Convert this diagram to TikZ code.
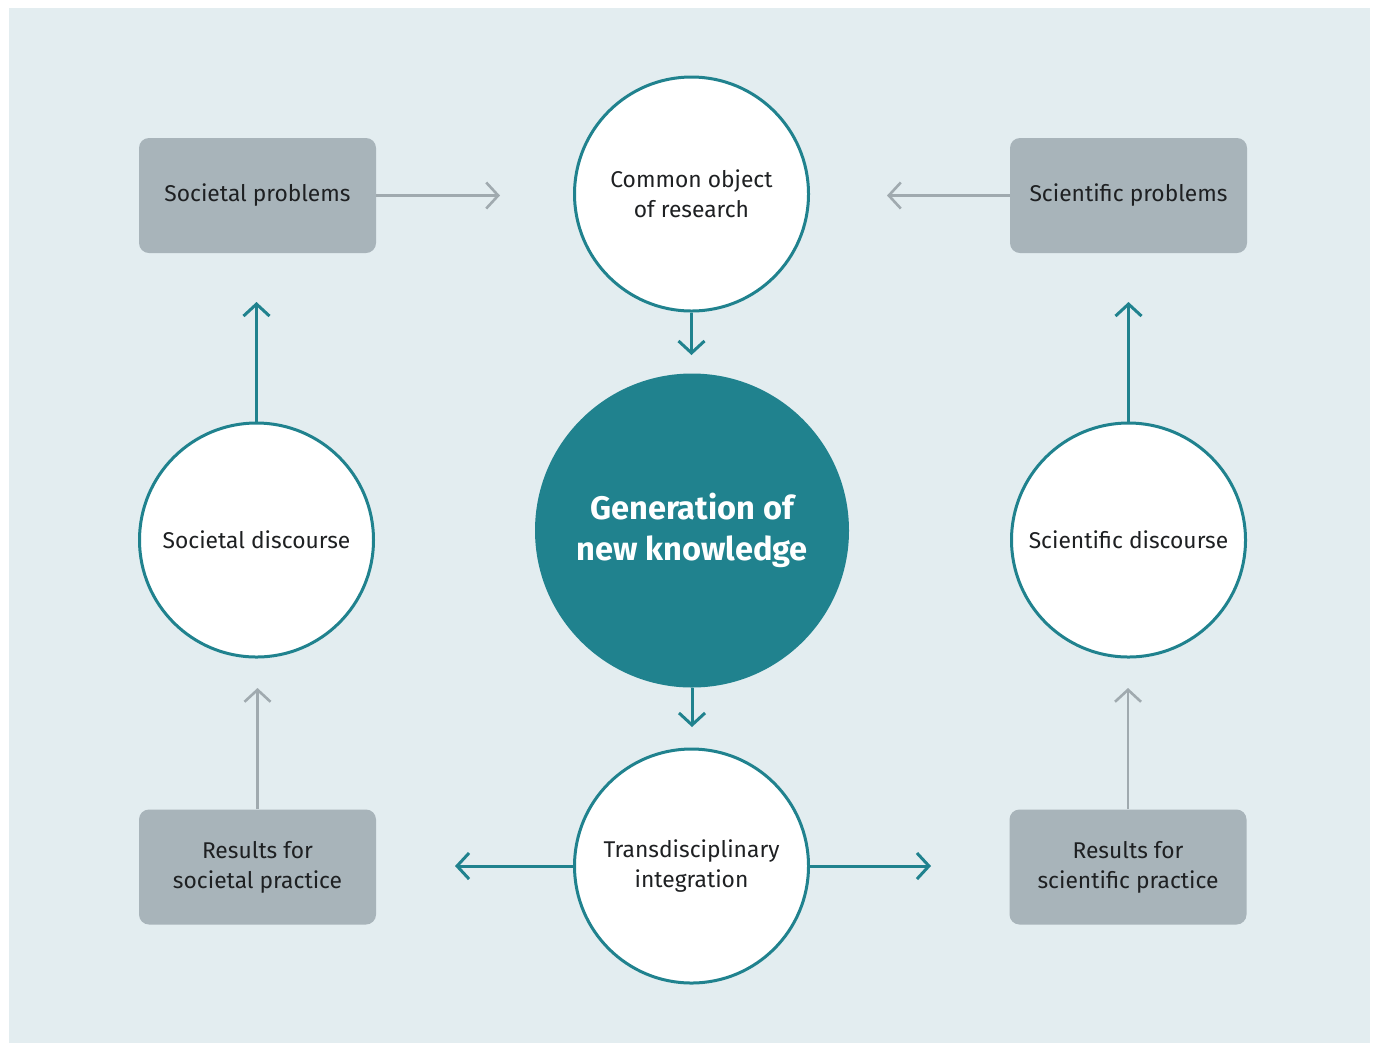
\documentclass[tikz,border=0pt]{standalone}
\usepackage{fontspec}
\setmainfont{Fira Sans}
\usetikzlibrary{arrows.meta}
\definecolor{panel}{RGB}{227,237,240}
\definecolor{boxgray}{RGB}{168,180,186}
\definecolor{arrgray}{RGB}{160,170,175}
\definecolor{tealc}{RGB}{32,130,142}
\definecolor{txt}{RGB}{30,32,34}
\begin{document}
\begin{tikzpicture}[x=0.5pt,y=-0.5pt,
  lbl/.style={font=\fontsize{11.4}{15}\selectfont, text=txt, align=center},
  gbox/.style={lbl, fill=boxgray, rounded corners=5pt, minimum width=118.5pt, minimum height=57.5pt, inner sep=0pt},
  wcirc/.style={lbl, circle, fill=white, draw=tealc, line width=1.5pt, minimum size=117pt, inner sep=0pt},
  bigc/.style={circle, fill=tealc, minimum size=157pt, inner sep=0pt, text=white, align=center, font=\fontsize{16.3}{20.5}\selectfont\bfseries},
  tarr/.style={draw=tealc, line width=1.5pt, -{Straight Barb[length=6pt,width=13pt]}},
  garr/.style={draw=arrgray, line width=1.3pt, -{Straight Barb[length=6pt,width=13pt]}}
]
\useasboundingbox (0,0) rectangle (1375,1046);
\fill[white] (0,0) rectangle (1375,1046);
\fill[panel] (9,8) rectangle (1370,1043);

% boxes
\node[gbox] (sp) at (257.5,195.5) {Societal problems};
\node[gbox] (scp) at (1128.5,195.5) {Scientific problems};
\node[gbox] (rsp) at (257.5,867) {Results for\\societal practice};
\node[gbox] (rscp) at (1128,867) {Results for\\scientific practice};

% circles
\node[wcirc] (cor) at (691.5,194) {Common object\\of research};
\node[wcirc] (sd) at (256.5,540) {Societal discourse};
\node[wcirc] (scd) at (1128.5,540) {Scientific discourse};
\node[wcirc] (ti) at (691.5,866) {Transdisciplinary\\integration};
\node[bigc] (gen) at (692,530.5) {Generation of\\new knowledge};

% free ends
\coordinate (e1) at (500,195.5);
\coordinate (e2) at (887,195.5);
\coordinate (e3) at (691.5,355);
\coordinate (e4) at (692,727);
\coordinate (e5) at (455,866);
\coordinate (e6) at (931,866);
\coordinate (e7) at (256.5,302);
\coordinate (e8) at (1128.5,302);
\coordinate (e9) at (257.5,688);
\coordinate (e10) at (1128,688);

% connectors
\draw[garr] (sp.east) -- (e1);
\draw[garr] (scp.west) -- (e2);
\draw[tarr] (cor.south) -- (e3);
\draw[tarr] (gen.south) -- (e4);
\draw[tarr] (ti.west) -- (e5);
\draw[tarr] (ti.east) -- (e6);
\draw[tarr] (sd.north) -- (e7);
\draw[tarr] (scd.north) -- (e8);
\draw[garr] (rsp.north) -- (e9);
\draw[garr] (rscp.north) -- (e10);
\end{tikzpicture}
\end{document}
